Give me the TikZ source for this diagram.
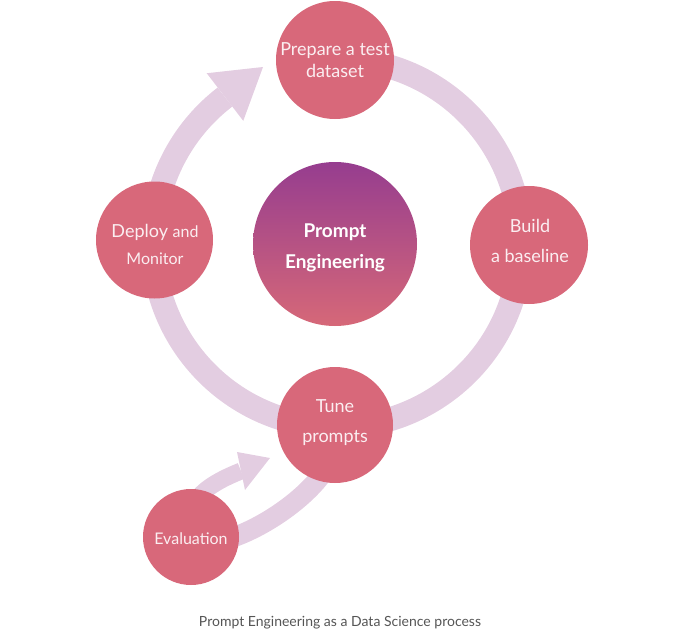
\documentclass[tikz,border=0pt]{standalone}
\usepackage{fontspec}
\setmainfont{Lato}
\usetikzlibrary{calc}
\definecolor{pinkc}{HTML}{D8687A}
\definecolor{ringc}{HTML}{E3CDE1}
\definecolor{ptop}{HTML}{963D8F}
\definecolor{pmid}{HTML}{A8468A}
\definecolor{pbot}{HTML}{D66878}
\definecolor{txtc}{HTML}{FBEEF1}
\definecolor{capc}{HTML}{555555}
\begin{document}
\begin{tikzpicture}[x=1pt,y=-1pt,
 stage/.style={circle, fill=pinkc, minimum size=#1, inner sep=0pt},
 lbl/.style={text=txtc, font=\fontsize{18}{21}\selectfont, anchor=base, inner sep=0pt},
 small/.style={font=\fontsize{16}{19}\selectfont},
 bold/.style={text=white, font=\bfseries\fontsize{19}{22}\selectfont},
 band/.style={draw=ringc, line width=#1}]
\useasboundingbox (0,0) rectangle (680,629);
\coordinate (C) at (337,243);
\coordinate (tipA) at (263,67);
% main ring with arrow
\draw[band=24pt] ([shift={(-85:184)}]C) arc[start angle=-85, end angle=232.5, radius=184];
\fill[ringc] ([shift={(232.5:154)}]C) -- ([shift={(232.5:214)}]C) -- (tipA) -- cycle;
% small loop
\coordinate (sb) at (241,471);
\coordinate (s0) at (198,498);
\coordinate (l0) at (225,540);
\coordinate (l1) at (325,470);
\draw[band=17pt] (s0) .. controls (207,486) and (226,477) .. (sb);
\fill[ringc] (237,452) -- (270,458) -- (245,490) -- cycle;
\draw[band=20pt] (l0) .. controls (260,530) and (305,500) .. (l1);
% circles
\node[stage=118pt] (prep) at (335,60) {};
\node[stage=118pt] (build) at (529,245) {};
\node[stage=117pt] (deploy) at (154.5,240) {};
\node[stage=116pt] (tune) at (335,425) {};
\node[stage=96pt] (eval) at (191,537) {};
\node[circle, minimum size=164pt, inner sep=0pt, top color=ptop, middle color=pmid, bottom color=pbot] (pe) at (335,244) {};
% texts
\node[lbl] (t1) at (335,55) {Prepare a test};
\node[lbl] (t2) at (335,77) {dataset};
\node[lbl] (t3) at (530,232) {Build};
\node[lbl] (t4) at (530,262) {a baseline};
\node[lbl] (t5) at (155,237) {Deploy {\fontsize{16}{19}\selectfont and}};
\node[lbl, small] (t6) at (155,264) {Monitor};
\node[lbl, bold] (t7) at (335,237) {Prompt};
\node[lbl, bold] (t8) at (335,268) {Engineering};
\node[lbl] (t9) at (335,412) {Tune};
\node[lbl] (t10) at (335,442) {prompts};
\node[lbl, small] (t11) at (191,544) {Evaluation};
\node[anchor=base, inner sep=0pt, text=capc, font=\fontsize{14}{17}\selectfont] (cap) at (340,626) {Prompt Engineering as a Data Science process};
\end{tikzpicture}
\end{document}
